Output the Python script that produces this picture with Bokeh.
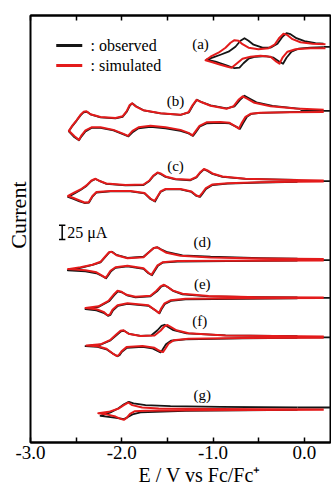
from bokeh.plotting import figure
from bokeh.models import Range1d, LinearAxis, FixedTicker, NumeralTickFormatter, Label, Title
from bokeh.embed import file_html
from bokeh.resources import INLINE

# ---- data: potential (V vs Fc/Fc+) and current (uA, relative to each trace's zero line) ----
a_sim_E = [0.231, 0.067, -0.097, -0.185, -0.240, -0.273, -0.306, -0.371, -0.481, -0.590, -0.678, -0.744, -0.798, -0.842, -0.919, -1.007, -1.083,
           -1.028, -0.941, -0.864, -0.809, -0.766, -0.722, -0.678, -0.612, -0.503, -0.393, -0.327, -0.273, -0.229, -0.185, -0.130, -0.043, 0.089, 0.231]
a_sim_I = [-3.5, -3.5, -5.3, -9.6, -20.1, -30.6, -27.1, -18.4, -16.6, -18.4, -21.9, -30.6, -37.6, -35.9, -32.4, -28.0, -24.5,
           -18.4, -11.4, -2.6, 6.1, 10.5, 9.6, 3.5, -2.6, -5.3, -3.5, 2.6, 14.9, 21.9, 19.3, 12.3, 7.0, 4.4, 3.5]
a_obs_E = [0.209, 0.067, -0.065, -0.141, -0.196, -0.234, -0.273, -0.338, -0.426, -0.536, -0.612, -0.667, -0.711, -0.766, -0.853, -0.974, -1.072,
           -1.007, -0.919, -0.831, -0.755, -0.700, -0.656, -0.612, -0.557, -0.459, -0.371, -0.295, -0.240, -0.196, -0.152, -0.087, 0.001, 0.122, 0.209]
a_obs_I = [-1.8, -2.6, -4.4, -9.6, -20.1, -30.6, -27.1, -20.1, -17.5, -18.4, -21.9, -29.8, -37.6, -38.5, -33.3, -27.1, -23.6,
           -20.1, -14.9, -9.6, -0.9, 9.6, 14.0, 9.6, 2.6, -2.6, -2.6, 4.4, 16.6, 22.8, 21.0, 14.0, 8.8, 5.3, 4.4]

b_sim_E = [0.212, -0.152, -0.481, -0.590, -0.645, -0.689, -0.718, -0.755, -0.820, -0.919, -1.072, -1.149, -1.193, -1.226, -1.269, -1.357,
           -1.521, -1.686, -1.817, -1.883, -1.932, -1.981, -2.091, -2.233, -2.332, -2.398, -2.441, -2.469, -2.518, -2.580,
           -2.540, -2.496, -2.452, -2.419, -2.387, -2.343, -2.233, -2.069, -1.992, -1.948, -1.916, -1.888, -1.850, -1.762, -1.576,
           -1.357, -1.269, -1.226, -1.182, -1.138, -1.028, -0.853, -0.777, -0.722, -0.675, -0.623, -0.547, -0.371, -0.097, 0.212]
b_sim_I = [-2.1, -2.6, -3.2, -5.3, -10.5, -21.9, -31.2, -27.1, -21.0, -19.6, -20.1, -26.3, -35.9, -42.9, -38.5, -33.3,
           -28.9, -26.3, -28.9, -35.0, -43.8, -40.3, -33.3, -28.9, -28.9, -34.1, -42.9, -50.8, -44.6, -35.0,
           -25.4, -16.6, -7.0, -1.8, -0.9, -6.1, -10.9, -12.6, -9.6, -0.9, 9.6, 13.1, 7.9, 0.9, -4.4,
           -7.0, -2.6, 9.6, 19.3, 15.8, 8.8, 3.5, 7.9, 19.3, 25.4, 21.0, 14.0, 7.9, 3.9, 2.1]
b_obs_E = [-0.043, -0.262, -0.481, -0.579, -0.629, -0.672, -0.705, -0.744, -0.820, -0.919, -1.072, -1.143, -1.187, -1.220, -1.269, -1.357,
           -1.521, -1.686, -1.817, -1.877, -1.927, -1.981, -2.091, -2.233, -2.332, -2.398, -2.441, -2.469, -2.518, -2.580,
           -2.540, -2.496, -2.452, -2.419, -2.381, -2.343, -2.233, -2.069, -1.992, -1.943, -1.910, -1.883, -1.844, -1.762, -1.576,
           -1.357, -1.264, -1.220, -1.176, -1.133, -1.028, -0.853, -0.766, -0.705, -0.656, -0.607, -0.525, -0.349, -0.043]
b_obs_I = [-1.8, -2.6, -3.5, -5.3, -10.5, -21.9, -31.5, -28.0, -21.9, -21.0, -21.9, -27.1, -36.8, -43.8, -39.4, -35.0,
           -30.6, -28.0, -30.6, -36.8, -44.6, -41.1, -34.1, -29.8, -29.8, -35.9, -44.6, -51.6, -46.4, -35.9,
           -26.3, -17.5, -7.9, -2.6, -1.8, -6.1, -11.4, -13.1, -10.5, -0.9, 9.6, 13.1, 7.9, 0.9, -4.4,
           -7.0, -2.6, 9.6, 19.3, 15.8, 9.6, 4.4, 7.9, 19.3, 26.3, 21.9, 14.9, 8.8, 3.5]

c_sim_E = [0.212, -0.119, -0.481, -0.842, -1.007, -1.083, -1.127, -1.149, -1.182, -1.237, -1.357, -1.521, -1.576, -1.609, -1.642, -1.686,
           -1.751, -1.905, -2.124, -2.277, -2.321, -2.365, -2.409, -2.463, -2.529, -2.589,
           -2.518, -2.452, -2.387, -2.332, -2.288, -2.244, -2.168, -1.959, -1.762, -1.697, -1.653, -1.609, -1.576, -1.521, -1.412,
           -1.248, -1.182, -1.138, -1.100, -1.061, -1.007, -0.897, -0.645, -0.262, 0.212]
c_sim_I = [-0.5, -1.1, -1.8, -3.5, -5.8, -12.8, -22.4, -26.8, -25.0, -18.0, -13.7, -13.7, -18.0, -26.8, -34.7, -30.3,
           -20.7, -17.2, -17.2, -18.9, -25.9, -37.3, -37.3, -33.8, -29.4, -25.9,
           -19.8, -14.5, -7.5, 1.2, 4.2, 0.4, -4.0, -6.7, -5.8, 1.2, 10.0, 15.2, 13.5, 8.2, 3.9,
           2.5, 7.4, 16.1, 21.4, 18.7, 13.5, 8.2, 4.2, 2.5, 1.2]
c_obs_E = [-0.076, -0.481, -0.842, -1.007, -1.078, -1.122, -1.143, -1.182, -1.237, -1.357, -1.521, -1.576, -1.609, -1.636, -1.686,
           -1.751, -1.905, -2.124, -2.277, -2.321, -2.359, -2.409, -2.463, -2.529, -2.589,
           -2.518, -2.452, -2.387, -2.332, -2.288, -2.244, -2.168, -1.959, -1.762, -1.697, -1.653, -1.609, -1.576, -1.521, -1.412,
           -1.248, -1.182, -1.138, -1.100, -1.061, -1.007, -0.897, -0.645, -0.076]
c_obs_I = [-1.4, -2.3, -4.2, -6.7, -13.7, -23.3, -27.6, -25.9, -18.9, -14.5, -14.5, -18.9, -27.6, -35.5, -31.2,
           -21.5, -18.0, -18.0, -19.8, -26.8, -37.3, -38.2, -35.5, -31.2, -27.6,
           -21.5, -15.4, -8.4, 0.4, 3.9, 0.4, -4.9, -7.5, -6.7, 0.4, 9.1, 14.4, 12.6, 7.4, 3.0,
           1.6, 6.5, 15.2, 20.5, 17.9, 12.6, 7.4, 3.9, 2.1]

d_sim_E = [0.212, -0.842, -1.390, -1.554, -1.609, -1.647, -1.675, -1.708, -1.762, -1.938, -2.069, -2.124, -2.157, -2.179, -2.211, -2.277, -2.398, -2.591,
           -2.452, -2.321, -2.233, -2.179, -2.140, -2.113, -2.058, -1.938, -1.762, -1.697, -1.653, -1.614, -1.576, -1.510, -1.357, -1.028, -0.481, 0.212]
d_sim_I = [-0.9, -1.2, -1.8, -3.9, -9.1, -18.7, -25.7, -22.2, -14.4, -10.0, -12.6, -18.7, -26.6, -31.0, -27.5, -21.4, -17.9, -15.8,
           -12.6, -8.2, -3.0, 6.7, 13.7, 14.5, 8.4, 3.2, 4.9, 14.5, 20.7, 22.4, 18.9, 12.8, 7.5, 4.6, 2.8, 1.8]
d_obs_E = [-0.076, -0.842, -1.390, -1.554, -1.604, -1.642, -1.669, -1.708, -1.762, -1.938, -2.069, -2.118, -2.151, -2.173, -2.211, -2.277, -2.398, -2.591,
           -2.452, -2.321, -2.233, -2.173, -2.135, -2.107, -2.058, -1.938, -1.762, -1.691, -1.647, -1.609, -1.571, -1.499, -1.335, -1.028, -0.481, -0.076]
d_obs_I = [-0.9, -1.8, -2.6, -4.6, -10.0, -19.6, -26.6, -23.1, -15.2, -10.9, -13.5, -19.6, -27.5, -31.9, -28.4, -23.1, -19.6, -17.9,
           -13.5, -8.2, -3.9, 6.7, 13.7, 14.5, 9.1, 4.0, 5.8, 15.4, 21.5, 22.4, 18.9, 13.7, 8.4, 5.8, 3.5, 2.3]

e_sim_E = [0.212, -0.678, -1.302, -1.467, -1.532, -1.571, -1.593, -1.631, -1.708, -1.938, -2.047, -2.102, -2.129, -2.157, -2.200, -2.277, -2.398,
           -2.255, -2.146, -2.091, -2.047, -2.003, -1.948, -1.850, -1.686, -1.620, -1.576, -1.538, -1.499, -1.445, -1.335, -1.050, -0.503, 0.212]
e_sim_I = [-0.5, -0.9, -1.8, -4.4, -9.6, -19.3, -26.8, -21.9, -13.1, -9.6, -13.1, -21.0, -28.9, -30.6, -24.5, -20.1, -18.0,
           -14.9, -5.3, 5.3, 12.3, 10.5, 5.3, 1.8, 3.5, 12.3, 20.1, 22.8, 19.3, 13.1, 7.0, 3.0, 1.2, 0.5]
e_obs_E = [-0.076, -0.678, -1.302, -1.461, -1.527, -1.565, -1.587, -1.625, -1.708, -1.938, -2.042, -2.096, -2.124, -2.151, -2.200, -2.277, -2.398,
           -2.255, -2.140, -2.085, -2.042, -1.998, -1.943, -1.850, -1.686, -1.614, -1.571, -1.532, -1.494, -1.439, -1.335, -1.050, -0.503, -0.076]
e_obs_I = [-0.9, -1.8, -2.6, -5.3, -10.5, -20.1, -27.1, -22.8, -14.0, -10.5, -14.0, -21.9, -29.8, -31.5, -26.3, -21.9, -19.8,
           -15.8, -6.1, 4.4, 11.4, 9.6, 4.4, 0.9, 2.6, 11.4, 19.3, 21.9, 18.4, 12.3, 6.1, 2.6, 1.2, 0.9]

f_sim_E = [0.212, -0.678, -1.269, -1.434, -1.488, -1.527, -1.549, -1.587, -1.642, -1.773, -1.948, -2.003, -2.031, -2.053, -2.102, -2.168, -2.266, -2.387,
           -2.233, -2.124, -2.058, -2.014, -1.981, -1.927, -1.795, -1.642, -1.576, -1.532, -1.499, -1.456, -1.401, -1.269, -0.864, 0.212]
f_sim_I = [-0.9, -1.4, -2.6, -5.3, -11.4, -21.0, -25.9, -23.6, -18.4, -15.4, -17.2, -24.5, -30.6, -32.9, -28.0, -20.1, -15.8, -14.4,
           -12.3, -4.4, 5.3, 11.4, 12.3, 6.1, 2.1, 3.0, 11.4, 19.3, 21.4, 17.5, 12.3, 7.0, 3.2, 1.4]
f_obs_E = [-0.076, -0.678, -1.302, -1.461, -1.516, -1.554, -1.576, -1.614, -1.669, -1.773, -1.943, -1.998, -2.025, -2.047, -2.096, -2.168, -2.266, -2.398,
           -2.233, -2.124, -2.053, -2.009, -1.976, -1.921, -1.795, -1.675, -1.609, -1.565, -1.532, -1.488, -1.434, -1.291, -0.864, -0.076]
f_obs_I = [-0.9, -1.8, -3.5, -6.1, -12.3, -21.9, -26.3, -23.6, -19.3, -16.6, -18.4, -25.4, -31.5, -33.3, -28.9, -21.0, -16.6, -15.4,
           -13.1, -5.3, 4.4, 10.5, 11.4, 6.1, 2.6, 3.5, 12.3, 20.1, 21.9, 17.5, 12.3, 7.0, 3.5, 1.8]

g_sim_E = [0.212, -1.302, -1.740, -1.861, -1.910, -1.948, -1.978, -2.014, -2.069, -2.179, -2.258,
           -2.142, -2.033, -1.978, -1.930, -1.886, -1.777, -1.595, -0.938, 0.212]
g_sim_I = [-0.9, -1.4, -2.6, -3.5, -7.9, -14.9, -18.4, -16.6, -12.6, -8.4, -6.7,
           -4.4, 1.4, 7.4, 11.9, 7.4, 3.2, 1.4, 0.4, -0.4]
g_obs_E = [-0.076, -1.302, -1.795, -1.883, -1.938, -1.976, -2.025, -2.102, -2.233,
           -2.124, -2.036, -1.976, -1.923, -1.872, -1.740, -1.467, -0.919, -0.076]
g_obs_I = [-0.9, -2.6, -5.3, -8.8, -14.0, -17.2, -15.8, -14.0, -11.4,
           -5.3, 1.8, 8.8, 13.1, 10.5, 7.4, 5.6, 4.4, 3.2]

panel_names = ["(a)", "(b)", "(c)", "(d)", "(e)", "(f)", "(g)"]
x_ticks = [-3.0, -2.0, -1.0, 0.0]
x_minor = [-2.5, -1.5, -0.5]
scale_uA = 25

# ---- layout constants (vertical stacking offsets in uA, label anchors) ----
offsets = [693, 580, 457, 319, 253, 184, 58]
stub_level = [-1.0, 0.0, 0.0, 0.0, 0.0, 0.0, 3.2]
label_pos = [(-1.138, 697.7), (-1.412, 597.5), (-1.412, 484.2), (-1.119, 350.0),
             (-1.119, 277.2), (-1.146, 211.8), (-1.119, 83.5)]
XMIN, XMAX = -3.0, 0.286

RED = "#e31b1b"
BLACK = "#151515"
SERIF = "Liberation Serif"

obs = [(a_obs_E, a_obs_I), (b_obs_E, b_obs_I), (c_obs_E, c_obs_I), (d_obs_E, d_obs_I),
       (e_obs_E, e_obs_I), (f_obs_E, f_obs_I), (g_obs_E, g_obs_I)]
sim = [(a_sim_E, a_sim_I), (b_sim_E, b_sim_I), (c_sim_E, c_sim_I), (d_sim_E, d_sim_I),
       (e_sim_E, e_sim_I), (f_sim_E, f_sim_I), (g_sim_E, g_sim_I)]

p = figure(width=331, height=492, output_backend="svg", toolbar_location=None,
           x_range=Range1d(XMIN, XMAX), y_range=Range1d(0, 746.7),
           x_axis_location=None, y_axis_location=None,
           min_border_left=30, min_border_right=1, min_border_top=15, min_border_bottom=50)
p.outline_line_color = "black"
p.outline_line_width = 2
p.background_fill_color = "white"
p.border_fill_color = "white"

for k in range(7):
    off = offsets[k]
    E, I = obs[k]
    p.line(E, [v + off for v in I], line_color=BLACK, line_width=1.8, line_join="round")
    p.segment(x0=[E[-1]], y0=[stub_level[k] + off], x1=[XMAX], y1=[stub_level[k] + off],
              line_color=BLACK, line_width=1.8)
for k in range(7):
    off = offsets[k]
    E, I = sim[k]
    p.line(E, [v + off for v in I], line_color=RED, line_width=2.0, line_join="round")
    lx, ly = label_pos[k]
    p.add_layout(Label(x=lx, y=ly, text=panel_names[k], text_align="center", text_baseline="middle",
                       text_font=SERIF, text_font_size="15px", text_color="black"))

# legend
p.segment(x0=[-2.718], y0=[694.2], x1=[-2.433], y1=[694.2], line_color=BLACK, line_width=3)
p.segment(x0=[-2.718], y0=[659.2], x1=[-2.433], y1=[659.2], line_color=RED, line_width=3)
p.add_layout(Label(x=-2.343, y=694.2, text=": observed", text_baseline="middle",
                   text_font=SERIF, text_font_size="16px", text_color="black"))
p.add_layout(Label(x=-2.343, y=659.2, text=": simulated", text_baseline="middle",
                   text_font=SERIF, text_font_size="16px", text_color="black"))

# scale bar 25 uA
sb_x, sb_y0 = -2.653, 355.0
p.segment(x0=[sb_x], y0=[sb_y0], x1=[sb_x], y1=[sb_y0 + scale_uA], line_color="black", line_width=1.5)
p.segment(x0=[sb_x - 0.035, sb_x - 0.035], y0=[sb_y0, sb_y0 + scale_uA],
          x1=[sb_x + 0.035, sb_x + 0.035], y1=[sb_y0, sb_y0 + scale_uA], line_color="black", line_width=1.5)
p.add_layout(Label(x=-2.598, y=sb_y0 + scale_uA / 2, text="25 \u03bcA", text_baseline="middle",
                   text_font=SERIF, text_font_size="16px", text_color="black"))

# axes
xb = LinearAxis(ticker=FixedTicker(ticks=x_ticks, minor_ticks=x_minor),
                formatter=NumeralTickFormatter(format="0.0"),
                major_tick_in=5, major_tick_out=0, minor_tick_in=5, minor_tick_out=0,
                axis_line_width=2, major_tick_line_width=1.5, minor_tick_line_width=1.5,
                major_label_text_font=SERIF, major_label_text_font_size="19px",
                major_label_text_color="black", major_label_standoff=3)
p.add_layout(xb, "below")
xt = LinearAxis(ticker=FixedTicker(ticks=x_ticks, minor_ticks=x_minor),
                major_tick_in=5, major_tick_out=0, minor_tick_in=5, minor_tick_out=0,
                axis_line_width=2, major_tick_line_width=1.5, minor_tick_line_width=1.5,
                major_label_text_font_size="0px", major_label_text_alpha=0, major_label_standoff=0)
p.add_layout(xt, "above")
p.grid.visible = False

# axis titles
p.add_layout(Title(text="E / V vs Fc/Fc\u207a", align="left", offset=108, standoff=0,
                   text_font=SERIF, text_font_size="20px", text_font_style="normal",
                   text_color="black"), "below")
p.add_layout(Title(text="Current", align="right", offset=166, standoff=0,
                   text_font=SERIF, text_font_size="22px", text_font_style="normal",
                   text_color="black"), "left")

open("out.html", "w").write(file_html(p, INLINE))
